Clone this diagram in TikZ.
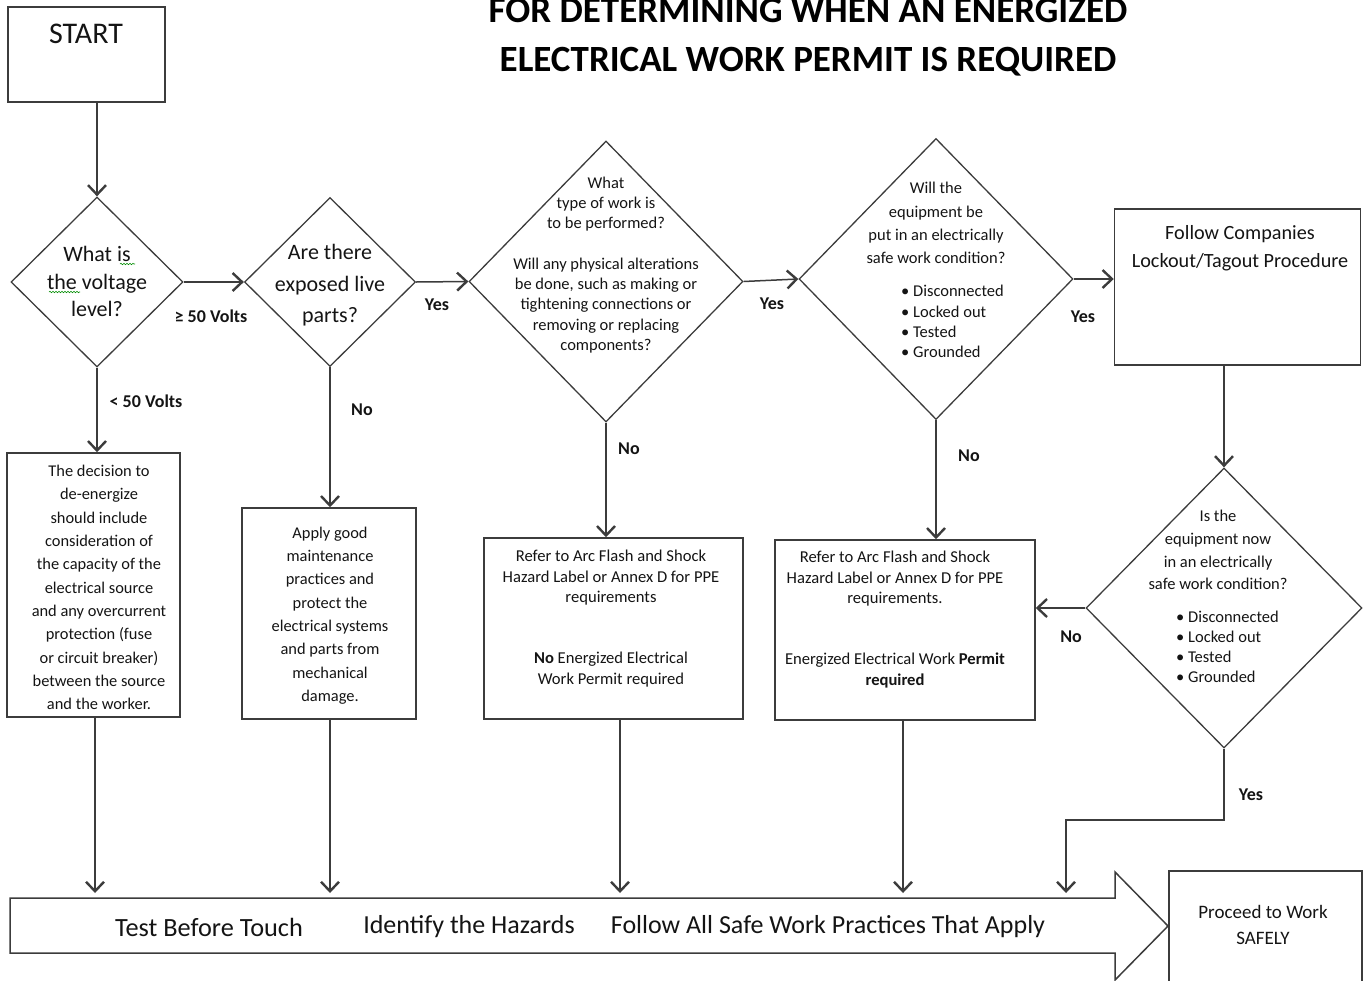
\documentclass[tikz,border=0pt]{standalone}
\usepackage{fontspec}
\setmainfont{Carlito}
\usetikzlibrary{arrows.meta,shapes.geometric,decorations.pathmorphing}
\definecolor{linegray}{RGB}{60,60,60}
\definecolor{txt}{RGB}{20,20,20}
\begin{document}
\begin{tikzpicture}[x=1pt,y=-1pt,
  box/.style={draw=linegray, line width=1.5pt, rectangle, inner sep=0pt},
  dia/.style={draw=linegray, line width=1.3pt, diamond, aspect=1, inner sep=0pt},
  arr/.style={draw=linegray, line width=1.5pt, -{Straight Barb[length=9.5pt,width=18pt,line width=2.4pt]}},
  lbl/.style={text=txt, font=\bfseries\fontsize{18}{21}\selectfont, inner sep=0pt},
  btext/.style={text=txt, align=center, inner sep=0pt},
  squiggle/.style={draw=green!55!black, line width=0.6pt, decorate, decoration={snake, amplitude=0.7pt, segment length=3pt}}
]
\useasboundingbox (0,0) rectangle (1364,980);
\clip (0,0) rectangle (1364,980);

% title
\node[anchor=base, font=\bfseries\fontsize{37}{42}\selectfont, inner sep=0pt] (title1) at (808,22) {FOR DETERMINING WHEN AN ENERGIZED};
\node[anchor=base, font=\bfseries\fontsize{37}{42}\selectfont, inner sep=0pt] (title2) at (808,71) {ELECTRICAL WORK PERMIT IS REQUIRED};

% start
\node[box, minimum width=157pt, minimum height=95pt] (start) at (86.5,54.5) {};
\node[btext, font=\fontsize{30}{32}\selectfont] (startt) at (86,34) {START};

% diamonds
\node[dia, minimum width=172pt, minimum height=170pt] (d1) at (97,282) {};
\node[btext, font=\fontsize{22}{27.5}\selectfont] (d1t) at (97,281.5) {What is\\the voltage\\level?};
\draw[squiggle] (120,264) -- (135,264);
\draw[squiggle] (49,292) -- (80,292);

\node[dia, minimum width=171pt, minimum height=169pt] (d2) at (330,282) {};
\node[btext, font=\fontsize{22}{31.5}\selectfont] (d2t) at (330,285.5) {Are there\\exposed live\\parts?};

\node[dia, minimum width=274pt, minimum height=281pt] (d3) at (606,281.5) {};
\node[btext, font=\fontsize{16.5}{20.25}\selectfont] (d3t) at (606,265) {What\\type of work is\\to be performed?\\[20.25pt]Will any physical alterations\\be done, such as making or\\tightening connections or\\removing or replacing\\components?};

\node[dia, minimum width=274pt, minimum height=281pt] (d4) at (936,279) {};
\node[btext, font=\fontsize{16.5}{23.3}\selectfont] (d4t) at (936,223) {Will the\\equipment be\\put in an electrically\\safe work condition?};
\node[btext, align=left, anchor=west, font=\fontsize{16.5}{20.3}\selectfont] (d4b) at (901,321.5) {• Disconnected\\• Locked out\\• Tested\\• Grounded};

\node[dia, minimum width=276pt, minimum height=280pt] (d5) at (1224,608) {};
\node[btext, font=\fontsize{16.5}{22.7}\selectfont] (d5t) at (1218,550) {Is the\\equipment now\\in an electrically\\safe work condition?};
\node[btext, align=left, anchor=west, font=\fontsize{16.5}{20}\selectfont] (d5b) at (1176,647) {• Disconnected\\• Locked out\\• Tested\\• Grounded};

% boxes
\node[box, minimum width=246pt, minimum height=156pt] (loto) at (1237.5,287) {};
\node[btext, font=\fontsize{20.2}{28}\selectfont] (lotot) at (1240,248) {Follow Companies\\Lockout/Tagout Procedure};

\node[box, minimum width=173pt, minimum height=264pt] (boxA) at (93.5,585) {};
\node[btext, font=\fontsize{16.4}{23.3}\selectfont] (boxAt) at (99,587.5) {The decision to\\de-energize\\should include\\consideration of\\the capacity of the\\electrical source\\and any overcurrent\\protection (fuse\\or circuit breaker)\\between the source\\and the worker.};

\node[box, minimum width=174pt, minimum height=211pt] (boxB) at (329,613.5) {};
\node[btext, font=\fontsize{16.4}{23.3}\selectfont] (boxBt) at (330,615.5) {Apply good\\maintenance\\practices and\\protect the\\electrical systems\\and parts from\\mechanical\\damage.};

\node[box, minimum width=259pt, minimum height=181pt] (boxC) at (613.5,628.5) {};
\node[btext, font=\fontsize{16.6}{20.5}\selectfont] (boxCt) at (611,618.5) {Refer to Arc Flash and Shock\\Hazard Label or Annex D for PPE\\requirements\\[40.5pt]\textbf{No} Energized Electrical\\Work Permit required};

\node[box, minimum width=260pt, minimum height=180pt] (boxD) at (905,630) {};
\node[btext, font=\fontsize{16.6}{20.5}\selectfont] (boxDt) at (895,619.5) {Refer to Arc Flash and Shock\\Hazard Label or Annex D for PPE\\requirements.\\[40.5pt]Energized Electrical Work \textbf{Permit}\\\textbf{required}};

\node[box, minimum width=193pt, minimum height=119pt] (proceed) at (1265.5,930.5) {};
\node[btext, font=\fontsize{19}{26}\selectfont] (proceedt) at (1263,925) {Proceed to Work\\SAFELY};

% big arrow bar
\draw[draw=linegray, line width=1.5pt, line join=miter] (10,898) -- (1115,898) -- (1115,872) -- (1168,926) -- (1115,980) -- (1115,953) -- (10,953) -- cycle;
\node[btext, font=\fontsize{26.3}{28}\selectfont] (bar1) at (209,927) {Test Before Touch};
\node[btext, font=\fontsize{26}{28}\selectfont] (bar2) at (469,927) {Identify the Hazards};
\node[btext, font=\fontsize{26}{28}\selectfont] (bar3) at (828,927) {Follow All Safe Work Practices That Apply};

\coordinate (b1) at (95,893);
\coordinate (b2) at (330,893);
\coordinate (b3) at (620,893);
\coordinate (b4) at (903,893);
\coordinate (b5) at (1066,893);
\coordinate (bend) at (1066,820);

% connectors
\draw[arr] (d1.north |- start.south) -- (d1.north);
\draw[arr] (d1.east) -- (d2.west);
\draw[arr] (d2.east) -- (d3.west);
\draw[arr] (d3.east) -- (d4.west);
\draw[arr] (d4.east) -- (d4.east -| loto.west);
\draw[arr] (d5.north |- loto.south) -- (d5.north);
\draw[arr] (d1.south) -- (d1.south |- boxA.north);
\draw[arr] (d2.south) -- (d2.south |- boxB.north);
\draw[arr] (d3.south) -- (d3.south |- boxC.north);
\draw[arr] (d4.south) -- (d4.south |- boxD.north);
\draw[arr] (d5.west) -- (d5.west -| boxD.east);
\draw[arr] (b1 |- boxA.south) -- (b1);
\draw[arr] (b2 |- boxB.south) -- (b2);
\draw[arr] (b3 |- boxC.south) -- (b3);
\draw[arr] (b4 |- boxD.south) -- (b4);
\draw[arr] (d5.south) |- (bend) -- (b5);

% labels
\node[lbl] (l1) at (211,316) {≥ 50 Volts};
\node[lbl] (l2) at (437,305) {Yes};
\node[lbl] (l3) at (772,304) {Yes};
\node[lbl] (l4) at (1083,317) {Yes};
\node[lbl] (l5) at (146,401) {< 50 Volts};
\node[lbl] (l6) at (362,410) {No};
\node[lbl] (l7) at (629,449) {No};
\node[lbl] (l8) at (969,456) {No};
\node[lbl] (l9) at (1071,637) {No};
\node[lbl] (l10) at (1251,795) {Yes};
\end{tikzpicture}
\end{document}
